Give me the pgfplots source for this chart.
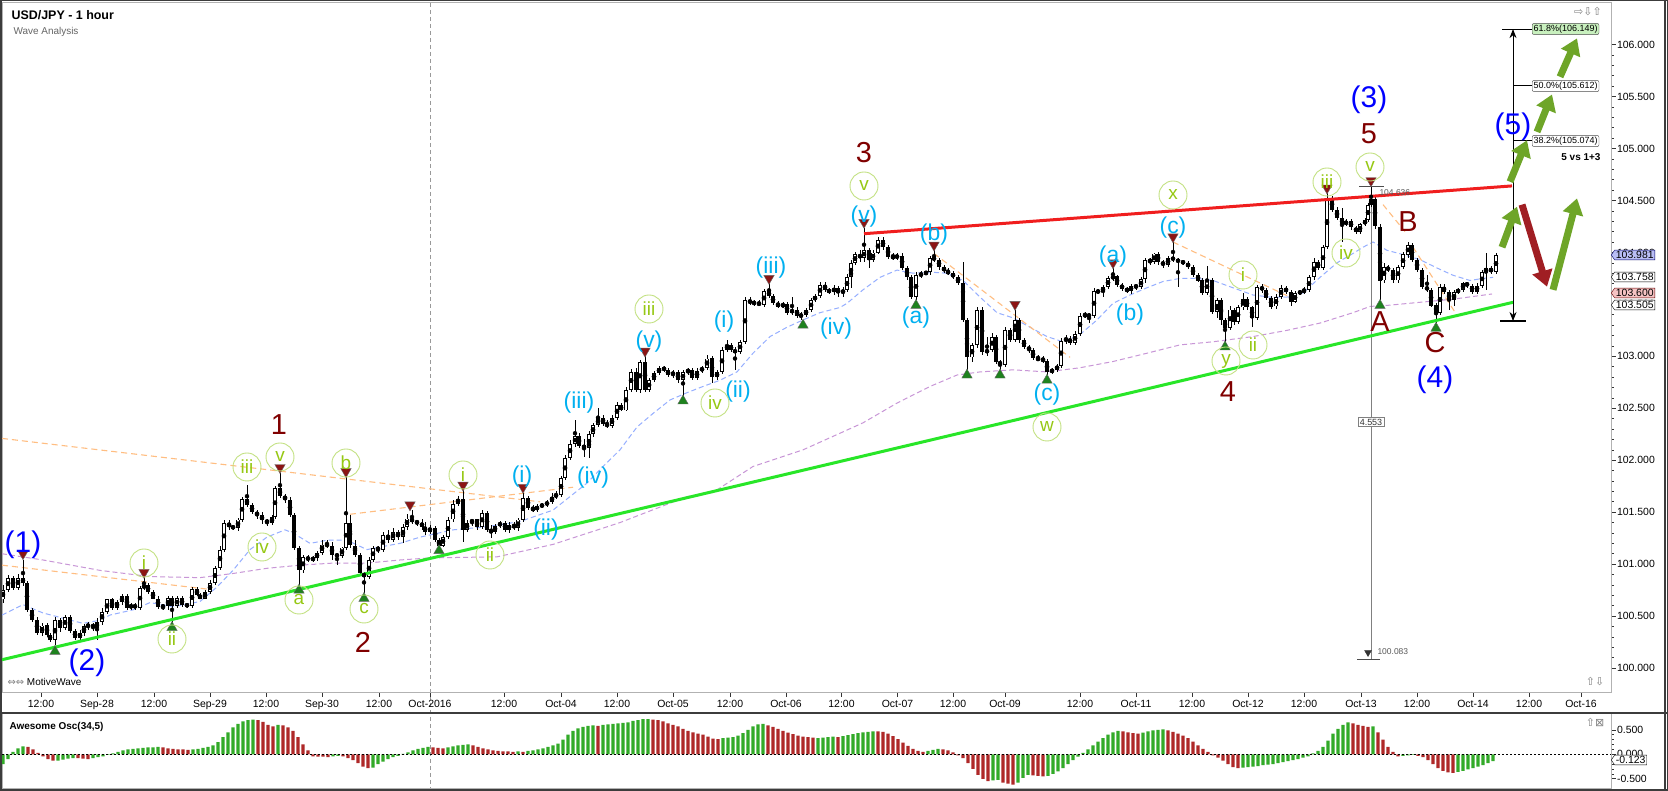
\documentclass[border=0pt]{standalone}
\usepackage{pgfplots}
\pgfplotsset{compat=1.18}
\usepackage{pgfplotstable}
\usepackage{fontspec}
\setmainfont{Liberation Sans}
\newfontfamily\djv{DejaVu Sans}
\usetikzlibrary{arrows.meta,shapes.symbols}
\definecolor{wblue}{RGB}{0,0,255}
\definecolor{wred}{RGB}{128,0,0}
\definecolor{wcyan}{RGB}{0,176,240}
\definecolor{wgreen}{RGB}{150,200,20}
\definecolor{wcirc}{RGB}{195,225,130}
\definecolor{trgreen}{RGB}{40,230,40}
\definecolor{trred}{RGB}{240,30,30}
\definecolor{maBlue}{RGB}{150,175,255}
\definecolor{maPurple}{RGB}{200,150,215}
\definecolor{fibOrange}{RGB}{255,190,130}
\definecolor{arrGreen}{RGB}{110,165,40}
\definecolor{arrRed}{RGB}{160,30,35}
\definecolor{aoGreen}{RGB}{50,170,40}
\definecolor{aoRed}{RGB}{175,40,40}
\definecolor{triGreen}{RGB}{30,130,30}
\definecolor{triRed}{RGB}{140,20,20}
\definecolor{fibGreen}{RGB}{200,240,190}
\definecolor{lblue}{RGB}{185,190,245}
\definecolor{lpink}{RGB}{245,195,195}
\definecolor{frame}{RGB}{60,60,60}
\tikzset{
  wc/.style={circle, draw=wcirc, line width=0.9bp, text=wgreen, minimum size=28bp, inner sep=0pt, font=\fontsize{19}{19}\selectfont},
  wcy/.style={text=wcyan, font=\fontsize{23}{23}\selectfont, inner sep=0pt},
  wb/.style={text=wblue, font=\fontsize{30}{30}\selectfont, inner sep=0pt},
  wr/.style={text=wred, font=\fontsize{29}{29}\selectfont, inner sep=0pt},
}
\pgfplotstableread{
x o h l c
3 100.66 100.80 100.63 100.75
8 100.75 100.90 100.73 100.87
13 100.87 100.89 100.75 100.77
18 100.77 100.91 100.75 100.87
23 100.87 101.04 100.79 100.82
27 100.82 100.84 100.54 100.56
32 100.56 100.58 100.44 100.46
37 100.46 100.49 100.32 100.34
42 100.34 100.43 100.31 100.41
47 100.41 100.43 100.30 100.32
50 100.32 100.34 100.25 100.27
55 100.27 100.49 100.22 100.46
60 100.46 100.48 100.35 100.39
65 100.39 100.51 100.37 100.49
70 100.49 100.51 100.34 100.36
75 100.36 100.38 100.27 100.29
80 100.29 100.37 100.25 100.34
84 100.34 100.42 100.31 100.40
88 100.40 100.44 100.37 100.42
93 100.42 100.43 100.36 100.39
97 100.39 100.48 100.27 100.44
102 100.44 100.58 100.42 100.54
107 100.54 100.67 100.52 100.66
112 100.66 100.67 100.56 100.58
117 100.58 100.66 100.56 100.64
122 100.64 100.71 100.61 100.69
127 100.69 100.71 100.56 100.58
131 100.58 100.63 100.56 100.61
135 100.61 100.63 100.56 100.58
140 100.58 100.79 100.56 100.77
144 100.77 100.88 100.75 100.80
148 100.80 100.82 100.71 100.73
153 100.73 100.75 100.66 100.67
158 100.67 100.69 100.57 100.59
163 100.59 100.61 100.56 100.60
168 100.60 100.69 100.56 100.67
172 100.67 100.69 100.43 100.60
177 100.60 100.69 100.58 100.67
182 100.67 100.69 100.59 100.61
187 100.61 100.63 100.58 100.60
192 100.60 100.78 100.58 100.76
197 100.76 100.78 100.69 100.70
200 100.70 100.72 100.66 100.67
205 100.67 100.75 100.66 100.73
210 100.73 100.85 100.71 100.82
215 100.82 100.98 100.80 100.96
220 100.96 101.18 100.94 101.14
224 101.14 101.43 101.12 101.40
229 101.40 101.42 101.33 101.36
233 101.36 101.38 101.33 101.35
238 101.35 101.44 101.32 101.43
242 101.43 101.65 101.41 101.63
247 101.63 101.76 101.55 101.57
252 101.57 101.59 101.48 101.50
257 101.50 101.52 101.44 101.47
262 101.47 101.50 101.39 101.42
267 101.42 101.44 101.37 101.40
272 101.40 101.47 101.38 101.45
275 101.45 101.75 101.43 101.73
280 101.73 101.88 101.64 101.66
285 101.66 101.68 101.59 101.62
290 101.62 101.65 101.45 101.47
294 101.47 101.49 101.14 101.16
299 101.16 101.18 100.80 100.94
303 100.94 101.09 100.91 101.07
308 101.07 101.09 101.02 101.04
313 101.04 101.08 101.02 101.06
317 101.06 101.13 101.03 101.11
322 101.11 101.23 101.09 101.19
327 101.19 101.23 101.16 101.18
332 101.18 101.21 101.04 101.09
337 101.09 101.11 100.99 101.08
342 101.08 101.17 101.06 101.16
346 101.16 101.84 101.14 101.40
350 101.40 101.47 101.16 101.18
355 101.18 101.23 101.07 101.09
360 101.09 101.11 100.90 100.91
364 100.91 100.93 100.72 100.88
369 100.88 101.07 100.86 101.04
373 101.04 101.18 101.02 101.16
378 101.16 101.17 101.11 101.14
383 101.14 101.31 101.12 101.28
388 101.28 101.33 101.20 101.23
393 101.23 101.35 101.21 101.31
398 101.31 101.33 101.23 101.26
403 101.26 101.39 101.20 101.36
407 101.36 101.48 101.33 101.44
412 101.44 101.52 101.39 101.41
417 101.41 101.43 101.37 101.40
422 101.40 101.43 101.33 101.36
425 101.36 101.41 101.28 101.31
430 101.31 101.38 101.29 101.35
435 101.35 101.37 101.21 101.23
439 101.23 101.25 101.16 101.18
443 101.18 101.28 101.17 101.26
448 101.26 101.45 101.24 101.43
453 101.43 101.62 101.41 101.58
458 101.58 101.66 101.56 101.63
463 101.63 101.71 101.21 101.33
467 101.33 101.43 101.31 101.40
472 101.40 101.44 101.37 101.43
477 101.43 101.44 101.33 101.36
482 101.36 101.52 101.34 101.49
487 101.49 101.51 101.31 101.33
491 101.33 101.38 101.25 101.31
495 101.31 101.39 101.29 101.37
500 101.37 101.42 101.35 101.40
505 101.40 101.42 101.31 101.33
509 101.33 101.41 101.30 101.38
514 101.38 101.41 101.33 101.35
518 101.35 101.44 101.32 101.43
523 101.43 101.69 101.41 101.64
528 101.64 101.66 101.52 101.54
533 101.54 101.57 101.50 101.52
537 101.52 101.58 101.50 101.56
542 101.56 101.59 101.54 101.57
547 101.57 101.62 101.55 101.60
552 101.60 101.68 101.58 101.65
556 101.65 101.70 101.63 101.67
561 101.67 101.85 101.65 101.83
565 101.83 102.05 101.81 102.02
570 102.02 102.19 102.00 102.16
575 102.16 102.39 102.13 102.23
579 102.23 102.26 102.12 102.14
584 102.14 102.20 102.03 102.12
589 102.12 102.28 102.02 102.25
593 102.25 102.36 102.22 102.34
598 102.34 102.50 102.32 102.41
603 102.41 102.44 102.33 102.35
607 102.35 102.39 102.31 102.33
612 102.33 102.44 102.31 102.41
617 102.41 102.56 102.39 102.53
621 102.53 102.55 102.47 102.48
626 102.48 102.70 102.47 102.68
631 102.68 102.88 102.66 102.85
636 102.85 102.89 102.66 102.68
640 102.68 102.97 102.65 102.95
645 102.95 103.00 102.66 102.68
649 102.68 102.79 102.66 102.77
654 102.77 102.86 102.75 102.84
659 102.84 102.91 102.82 102.89
664 102.89 102.91 102.85 102.87
668 102.87 102.89 102.80 102.82
673 102.82 102.87 102.79 102.85
678 102.85 102.87 102.74 102.77
683 102.77 102.87 102.61 102.85
688 102.85 102.89 102.82 102.87
692 102.87 102.89 102.77 102.79
697 102.79 102.89 102.77 102.86
702 102.86 102.91 102.84 102.89
707 102.89 103.01 102.87 102.98
712 102.98 103.00 102.74 102.80
717 102.80 102.87 102.77 102.85
722 102.85 103.09 102.83 103.06
727 103.06 103.16 103.04 103.11
731 103.11 103.13 103.04 103.06
735 103.06 103.09 102.87 103.04
740 103.04 103.16 103.02 103.14
745 103.14 103.57 103.12 103.54
750 103.54 103.57 103.49 103.51
754 103.51 103.54 103.49 103.52
759 103.52 103.54 103.48 103.49
764 103.49 103.65 103.48 103.63
769 103.63 103.71 103.56 103.58
773 103.58 103.60 103.49 103.51
778 103.51 103.53 103.47 103.48
783 103.48 103.52 103.47 103.50
787 103.50 103.52 103.40 103.42
792 103.42 103.57 103.40 103.45
797 103.45 103.47 103.37 103.39
801 103.39 103.43 103.35 103.40
806 103.40 103.47 103.38 103.45
811 103.45 103.56 103.43 103.54
815 103.54 103.60 103.52 103.58
820 103.58 103.72 103.56 103.69
825 103.69 103.72 103.62 103.64
829 103.64 103.66 103.60 103.62
834 103.62 103.69 103.59 103.66
838 103.66 103.68 103.57 103.61
843 103.61 103.67 103.57 103.64
847 103.64 103.79 103.62 103.76
851 103.76 103.93 103.66 103.90
855 103.90 104.00 103.88 103.98
860 103.98 104.02 103.91 103.95
864 103.95 104.24 103.91 104.02
869 104.02 104.04 103.85 103.93
873 103.93 104.02 103.91 104.00
878 104.00 104.15 103.98 104.12
883 104.12 104.15 104.02 104.05
888 104.05 104.07 103.94 103.96
893 103.96 104.00 103.93 103.95
897 103.95 103.99 103.93 103.97
902 103.97 103.99 103.83 103.85
907 103.85 103.87 103.74 103.76
911 103.76 103.78 103.55 103.57
916 103.57 103.81 103.54 103.78
921 103.78 103.82 103.75 103.80
926 103.80 103.82 103.78 103.81
930 103.81 103.97 103.78 103.95
934 103.95 104.02 103.91 103.93
939 103.93 103.95 103.83 103.86
944 103.86 103.88 103.80 103.82
948 103.82 103.85 103.78 103.80
953 103.80 103.82 103.74 103.76
958 103.76 103.78 103.69 103.71
963 103.71 103.91 103.33 103.35
967 103.35 103.37 102.87 102.99
972 102.99 103.13 102.95 103.11
977 103.11 103.47 103.08 103.45
982 103.45 103.48 103.01 103.04
987 103.04 103.19 103.00 103.06
992 103.06 103.22 103.04 103.19
996 103.19 103.21 102.93 102.95
1000 102.95 102.97 102.87 102.92
1005 102.92 103.28 102.90 103.25
1010 103.25 103.27 103.14 103.16
1015 103.16 103.45 103.14 103.35
1019 103.35 103.37 103.13 103.16
1024 103.16 103.18 103.07 103.09
1029 103.09 103.11 103.03 103.06
1033 103.06 103.08 102.97 102.98
1038 102.98 103.01 102.96 102.97
1043 102.97 103.00 102.94 102.96
1047 102.96 102.97 102.82 102.85
1052 102.85 102.89 102.83 102.87
1057 102.87 102.93 102.85 102.91
1061 102.91 103.18 102.89 103.15
1066 103.15 103.21 103.12 103.17
1070 103.17 103.20 103.11 103.13
1075 103.13 103.24 103.11 103.22
1080 103.22 103.42 103.20 103.39
1085 103.39 103.43 103.37 103.40
1089 103.40 103.42 103.32 103.39
1094 103.39 103.66 103.37 103.63
1098 103.63 103.65 103.60 103.62
1103 103.62 103.69 103.57 103.67
1108 103.67 103.77 103.65 103.75
1113 103.75 103.85 103.73 103.77
1117 103.77 103.78 103.67 103.69
1122 103.69 103.71 103.63 103.65
1127 103.65 103.67 103.61 103.63
1131 103.63 103.70 103.60 103.68
1136 103.68 103.70 103.64 103.67
1141 103.67 103.76 103.65 103.74
1145 103.74 103.95 103.71 103.93
1150 103.93 103.95 103.88 103.91
1154 103.91 104.00 103.89 103.99
1158 103.99 104.00 103.88 103.91
1163 103.91 103.93 103.85 103.88
1168 103.88 103.97 103.86 103.95
1173 103.95 104.10 103.91 103.93
1178 103.93 103.95 103.67 103.91
1183 103.91 103.93 103.88 103.90
1188 103.90 103.92 103.84 103.86
1193 103.86 103.88 103.76 103.78
1198 103.78 103.80 103.72 103.73
1202 103.73 103.75 103.59 103.61
1207 103.61 103.87 103.59 103.73
1212 103.73 103.75 103.41 103.43
1217 103.43 103.56 103.37 103.54
1221 103.54 103.56 103.30 103.35
1225 103.35 103.37 103.14 103.27
1230 103.27 103.48 103.25 103.45
1234 103.45 103.47 103.30 103.33
1238 103.33 103.49 103.31 103.47
1243 103.47 103.61 103.45 103.55
1247 103.55 103.57 103.45 103.47
1252 103.47 103.49 103.28 103.37
1257 103.37 103.69 103.35 103.67
1262 103.67 103.70 103.61 103.64
1266 103.64 103.66 103.54 103.56
1271 103.56 103.58 103.46 103.48
1276 103.48 103.60 103.46 103.57
1281 103.57 103.69 103.55 103.66
1286 103.66 103.68 103.60 103.62
1291 103.62 103.64 103.48 103.52
1295 103.52 103.63 103.51 103.61
1300 103.61 103.64 103.59 103.62
1304 103.62 103.67 103.60 103.64
1309 103.64 103.78 103.62 103.76
1314 103.76 103.95 103.74 103.91
1318 103.91 103.93 103.83 103.85
1323 103.85 104.07 103.83 104.05
1327 104.05 104.57 104.03 104.52
1332 104.52 104.54 104.39 104.41
1337 104.41 104.44 104.31 104.33
1342 104.33 104.43 104.10 104.27
1346 104.27 104.32 104.25 104.30
1351 104.30 104.32 104.22 104.24
1356 104.24 104.26 104.18 104.20
1360 104.20 104.28 104.18 104.27
1365 104.27 104.33 104.25 104.31
1368 104.31 104.48 104.29 104.46
1371 104.46 104.63 104.44 104.51
1375 104.51 104.53 104.23 104.25
1380 104.25 104.27 103.54 103.73
1384 103.73 103.90 103.71 103.86
1388 103.86 103.88 103.81 103.83
1393 103.83 103.85 103.71 103.73
1398 103.73 103.88 103.71 103.86
1403 103.86 104.00 103.84 103.98
1408 103.98 104.10 103.95 104.07
1412 104.07 104.09 103.91 103.93
1417 103.93 103.95 103.81 103.83
1422 103.83 103.85 103.65 103.67
1427 103.67 103.78 103.62 103.64
1431 103.64 103.66 103.48 103.49
1436 103.49 103.51 103.32 103.42
1440 103.42 103.70 103.40 103.67
1444 103.67 103.70 103.60 103.62
1449 103.62 103.64 103.45 103.54
1454 103.54 103.64 103.49 103.62
1458 103.62 103.66 103.60 103.64
1463 103.64 103.72 103.62 103.71
1467 103.71 103.72 103.66 103.68
1472 103.68 103.70 103.60 103.62
1477 103.62 103.71 103.60 103.68
1482 103.68 103.83 103.66 103.81
1486 103.81 103.99 103.64 103.85
1491 103.85 103.87 103.79 103.81
1496 103.81 103.99 103.79 103.98
}\candles
\begin{document}
\begin{tikzpicture}
\useasboundingbox (0,0) rectangle (1668bp,791bp);
\fill[white] (0,0) rectangle (1668bp,791bp);
\begin{scope}[x=1bp,y=-1bp,yshift=791bp]
\draw[gray!80, dash pattern=on 4bp off 3bp, line width=0.8bp] (430,3)--(430,788);
\end{scope}
% ---------------- main panel ----------------
\begin{axis}[
  at={(2bp,99bp)}, anchor=south west,
  scale only axis, width=1609bp, height=690bp,
  xmin=2, xmax=1611, ymin=99.7695, ymax=106.41,
  axis line style={draw=gray!60, line width=0.8bp},
  xtick={41,97,154,210,266,322,379,430,504,561,617,673,730,786,841.5,897.5,953,1005,1080,1136,1192,1248,1304,1361,1417,1473,1529,1581},
  xticklabels={12:00,Sep-28,12:00,Sep-29,12:00,Sep-30,12:00,Oct-2016,12:00,Oct-04,12:00,Oct-05,12:00,Oct-06,12:00,Oct-07,12:00,Oct-09,12:00,Oct-11,12:00,Oct-12,12:00,Oct-13,12:00,Oct-14,12:00,Oct-16},
  xtick pos=bottom, ytick pos=right, yticklabel pos=right,
  tick align=outside, major tick length=4.5bp, minor tick length=2.5bp,
  ytick={100,100.5,101,101.5,102,102.5,103,103.5,104,104.5,105,105.5,106},
  yticklabels={100.000,100.500,101.000,101.500,102.000,102.500,103.000,103.500,104.000,104.500,105.000,105.500,106.000},
  minor y tick num=4,
  every tick/.style={black!80, line width=0.6bp},
  tick label style={font=\fontsize{10.5}{12}\selectfont, text=black},
  yticklabel style={anchor=west, xshift=-2bp},
]
% moving averages
\addplot[maPurple, dashed, dash pattern=on 5bp off 3bp, line width=1bp] coordinates {(2,101.10) (43,101.04) (100,100.94) (150,100.88) (200,100.87) (233,100.91) (267,100.96) (300,100.99) (333,101.01) (367,101.01) (400,101.04) (430,101.06) (497,101.07) (553,101.19) (620,101.40) (687,101.65) (713,101.69) (753,101.94) (803,102.10) (840,102.26) (863,102.36) (897,102.55) (930,102.71) (957,102.82) (980,102.85) (1013,102.87) (1047,102.85) (1080,102.89) (1113,102.95) (1147,103.03) (1180,103.11) (1213,103.14) (1253,103.19) (1287,103.25) (1320,103.32) (1353,103.42) (1370,103.48) (1387,103.49) (1420,103.52) (1453,103.55) (1492,103.60)};
\addplot[maBlue, dashed, dash pattern=on 5bp off 3bp, line width=1bp] coordinates {(2,100.51) (23,100.61) (43,100.53) (83,100.43) (100,100.46) (110,100.51) (133,100.56) (150,100.63) (173,100.59) (200,100.64) (217,100.78) (233,100.94) (250,101.14) (267,101.26) (285,101.33) (293,101.30) (310,101.20) (327,101.23) (347,101.23) (367,101.14) (383,101.17) (400,101.20) (420,101.26) (453,101.33) (487,101.36) (520,101.41) (553,101.52) (570,101.65) (587,101.78) (603,101.94) (620,102.10) (637,102.32) (653,102.45) (670,102.58) (687,102.65) (703,102.71) (720,102.77) (737,102.85) (753,103.03) (770,103.19) (787,103.28) (803,103.35) (820,103.42) (840,103.47) (847,103.51) (863,103.64) (880,103.76) (897,103.83) (913,103.80) (930,103.81) (947,103.80) (963,103.73) (980,103.57) (997,103.42) (1013,103.37) (1030,103.28) (1047,103.19) (1063,103.14) (1080,103.21) (1097,103.35) (1113,103.51) (1130,103.59) (1147,103.66) (1163,103.72) (1180,103.75) (1197,103.75) (1213,103.73) (1230,103.67) (1253,103.59) (1270,103.57) (1287,103.57) (1303,103.61) (1320,103.76) (1337,103.90) (1353,103.99) (1363,104.05) (1373,104.10) (1387,104.02) (1403,103.98) (1420,103.93) (1437,103.85) (1453,103.78) (1470,103.73) (1483,103.75) (1493,103.76)};
% orange wave channel lines
\addplot[fibOrange, dash pattern=on 6bp off 4bp, line width=1.1bp] coordinates {(2,102.21) (540,101.60)};
\addplot[fibOrange, dash pattern=on 6bp off 4bp, line width=1.1bp] coordinates {(350,101.48) (573,101.74)};
\addplot[fibOrange, dash pattern=on 6bp off 4bp, line width=1.1bp] coordinates {(2,100.99) (207,100.76)};
\addplot[fibOrange, dash pattern=on 6bp off 4bp, line width=1.1bp] coordinates {(934,103.99) (1070,102.99)};
\addplot[fibOrange, dash pattern=on 6bp off 4bp, line width=1.1bp] coordinates {(1173,104.10) (1290,103.57)};
\addplot[fibOrange, dash pattern=on 6bp off 4bp, line width=1.1bp] coordinates {(1383,104.46) (1405,104.20)};
\addplot[fibOrange, dash pattern=on 6bp off 4bp, line width=1.1bp] coordinates {(1413,104.05) (1458,103.38)};
% gray measurement
\addplot[gray, line width=0.8bp] coordinates {(1371,104.636) (1371,100.083)};
\addplot[gray!60!black, line width=1.2bp] coordinates {(1359,104.636) (1384,104.636)};
\addplot[gray!60!black, line width=1.2bp] coordinates {(1357,100.083) (1380,100.083)};
\addplot[only marks, mark=triangle*, mark size=4, mark options={rotate=180, fill=gray!40!black, draw=gray!40!black}] coordinates {(1368,100.15)};
% candles
\addplot[only marks, mark=none, error bars/.cd, y dir=both, y explicit, error mark=none, error bar style={draw=black, line width=0.9bp}]
  table[x=x, y expr={(\thisrow{h}+\thisrow{l})/2}, y error expr={(\thisrow{h}-\thisrow{l})/2}] {\candles};
\addplot[only marks, mark=none, error bars/.cd, y dir=both, y explicit, error mark=none, error bar style={draw=black, line width=3.3bp}]
  table[x=x, y expr={(\thisrow{o}+\thisrow{c})/2}, y error expr={max(abs(\thisrow{c}-\thisrow{o})/2,0.006)}] {\candles};
\addplot[only marks, mark=none, error bars/.cd, y dir=both, y explicit, error mark=none, error bar style={draw=white, line width=1.5bp}]
  table[x=x, y expr={(\thisrow{o}+\thisrow{c})/2}, y error expr={(\thisrow{c}>\thisrow{o}) ? max((\thisrow{c}-\thisrow{o})/2-0.009,0) : 0}] {\candles};
% trend lines
\addplot[trgreen, line width=3bp] coordinates {(2,100.08) (1513,103.52)};
\addplot[trred, line width=3bp] coordinates {(864,104.18) (1512,104.64)};
% black fib measurement
\addplot[black, line width=0.9bp, {Stealth[length=9bp,width=7bp]}-{Stealth[length=9bp,width=7bp]}] coordinates {(1513,106.149) (1513,103.34)};
\addplot[black, line width=1.2bp] coordinates {(1502,106.149) (1532,106.149)};
\addplot[black, line width=0.8bp] coordinates {(1513,105.612) (1532,105.612)};
\addplot[black, line width=0.8bp] coordinates {(1513,105.074) (1532,105.074)};
\addplot[black, line width=1.2bp] coordinates {(1500,103.34) (1526,103.34)};
% swing markers
\addplot[only marks, mark=triangle*, mark size=6, mark options={fill=triGreen, draw=black!60, line width=0.4bp}] coordinates {(55,100.16) (172,100.39) (299,100.75) (364,100.67) (439,101.13) (683,102.57) (803,103.30) (916,103.49) (967,102.82) (1000,102.82) (1047,102.77) (1225,103.09) (1380,103.49) (1436,103.27)};
\addplot[only marks, mark=triangle*, mark size=6, mark options={rotate=180, fill=triRed, draw=black!60, line width=0.4bp}] coordinates {(23,101.10) (144,100.92) (280,101.93) (346,101.89) (410,101.57) (463,101.76) (523,101.74) (645,103.05) (769,103.75) (864,104.29) (934,104.07) (1015,103.50) (1113,103.90) (1173,104.15) (1327,104.62) (1371,104.69)};
% projection arrows
\addplot[arrGreen, line width=7bp, -{Triangle[length=16bp,width=20bp]}] coordinates {(1502,104.05) (1517,104.44)};
\addplot[arrGreen, line width=7bp, -{Triangle[length=16bp,width=20bp]}] coordinates {(1510,104.68) (1527,105.08)};
\addplot[arrGreen, line width=7bp, -{Triangle[length=16bp,width=20bp]}] coordinates {(1537,105.16) (1552,105.52)};
\addplot[arrGreen, line width=7bp, -{Triangle[length=16bp,width=20bp]}] coordinates {(1560,105.69) (1577,106.06)};
\addplot[arrGreen, line width=7bp, -{Triangle[length=16bp,width=20bp]}] coordinates {(1553,103.64) (1577,104.52)};
\addplot[arrRed, line width=7bp, -{Triangle[length=16bp,width=20bp]}] coordinates {(1522,104.46) (1547,103.67)};
\end{axis}
% ---------------- oscillator panel ----------------
\begin{axis}[
  at={(2bp,3bp)}, anchor=south west,
  scale only axis, width=1609bp, height=75bp,
  xmin=2, xmax=1611, ymin=-0.688, ymax=0.843,
  axis line style={draw=gray!60, line width=0.8bp},
  xtick=\empty,
  ytick={-0.5,0,0.5}, yticklabels={-0.500,0.000,0.500},
  ytick pos=right, yticklabel pos=right,
  tick align=outside, major tick length=4.5bp, minor tick length=2.5bp,
  minor y tick num=4,
  every tick/.style={black!80, line width=0.6bp},
  tick label style={font=\fontsize{10.5}{12}\selectfont, text=black},
  yticklabel style={anchor=west, xshift=-2bp},
]
\addplot[ybar, bar width=3.4bp, bar shift=0pt, fill=aoGreen, draw=none] coordinates {(3,-0.20) (8,-0.10) (13,0.05) (18,0.12) (23,0.16) (58,-0.13) (63,-0.11) (68,-0.09) (73,-0.08) (93,-0.08) (98,-0.06) (103,-0.04) (108,-0.01) (113,0.02) (118,0.05) (123,0.08) (128,0.10) (133,0.11) (138,0.12) (143,0.13) (148,0.14) (153,0.14) (158,0.15) (193,0.10) (198,0.11) (203,0.13) (208,0.15) (213,0.18) (218,0.25) (223,0.35) (228,0.45) (233,0.55) (238,0.62) (243,0.67) (248,0.70) (253,0.71) (278,0.60) (333,-0.04) (338,-0.03) (373,-0.27) (378,-0.20) (383,-0.15) (388,-0.10) (393,-0.06) (398,-0.03) (403,0.01) (408,0.04) (413,0.08) (418,0.11) (423,0.13) (428,0.15) (448,0.14) (453,0.16) (458,0.18) (463,0.19) (468,0.20) (518,0.06) (528,0.07) (533,0.08) (538,0.10) (543,0.12) (548,0.15) (553,0.18) (558,0.22) (563,0.30) (568,0.40) (573,0.48) (578,0.53) (583,0.56) (588,0.58) (593,0.59) (603,0.60) (608,0.61) (613,0.62) (618,0.63) (623,0.64) (628,0.65) (633,0.68) (638,0.70) (643,0.72) (648,0.72) (723,0.33) (728,0.34) (733,0.35) (738,0.38) (743,0.43) (748,0.50) (753,0.57) (758,0.61) (763,0.62) (818,0.33) (823,0.34) (828,0.35) (833,0.36) (843,0.37) (848,0.39) (853,0.41) (858,0.43) (863,0.45) (868,0.46) (873,0.47) (928,0.07) (933,0.09) (938,0.11) (993,-0.53) (998,-0.52) (1018,-0.58) (1023,-0.48) (1028,-0.42) (1048,-0.44) (1053,-0.40) (1058,-0.35) (1063,-0.28) (1068,-0.20) (1073,-0.12) (1078,-0.05) (1083,0.03) (1088,0.10) (1093,0.18) (1098,0.26) (1103,0.33) (1108,0.40) (1113,0.45) (1118,0.48) (1143,0.44) (1148,0.47) (1153,0.49) (1158,0.50) (1163,0.51) (1243,-0.27) (1248,-0.26) (1253,-0.25) (1258,-0.24) (1263,-0.22) (1268,-0.21) (1273,-0.20) (1278,-0.18) (1283,-0.16) (1288,-0.14) (1293,-0.12) (1298,-0.10) (1303,-0.07) (1308,-0.04) (1313,0.02) (1318,0.07) (1323,0.15) (1328,0.28) (1333,0.42) (1338,0.52) (1343,0.60) (1348,0.65) (1373,0.57) (1403,-0.03) (1408,-0.02) (1413,-0.01) (1458,-0.36) (1463,-0.34) (1468,-0.31) (1473,-0.28) (1478,-0.25) (1483,-0.22) (1488,-0.18) (1493,-0.14)};
\addplot[ybar, bar width=3.4bp, bar shift=0pt, fill=aoRed, draw=none] coordinates {(28,0.15) (33,0.10) (38,0.03) (43,-0.04) (48,-0.10) (53,-0.13) (78,-0.08) (83,-0.09) (88,-0.10) (163,0.14) (168,0.12) (173,0.11) (178,0.10) (183,0.10) (188,0.09) (258,0.70) (263,0.66) (268,0.60) (273,0.57) (283,0.59) (288,0.55) (293,0.48) (298,0.35) (303,0.20) (308,0.08) (313,-0.04) (318,-0.05) (323,-0.05) (328,-0.06) (343,-0.04) (348,-0.08) (353,-0.12) (358,-0.18) (363,-0.25) (368,-0.28) (433,0.14) (438,0.13) (443,0.12) (473,0.18) (478,0.15) (483,0.12) (488,0.10) (493,0.08) (498,0.07) (503,0.06) (508,0.06) (513,0.05) (523,0.05) (598,0.58) (653,0.71) (658,0.70) (663,0.67) (668,0.63) (673,0.60) (678,0.57) (683,0.52) (688,0.48) (693,0.45) (698,0.42) (703,0.40) (708,0.36) (713,0.32) (718,0.31) (768,0.59) (773,0.56) (778,0.52) (783,0.48) (788,0.44) (793,0.41) (798,0.38) (803,0.36) (808,0.35) (813,0.34) (838,0.35) (878,0.47) (883,0.46) (888,0.42) (893,0.37) (898,0.31) (903,0.24) (908,0.17) (913,0.11) (918,0.07) (923,0.05) (943,0.10) (948,0.08) (953,0.04) (958,-0.02) (963,-0.08) (968,-0.18) (973,-0.30) (978,-0.42) (983,-0.50) (988,-0.55) (1003,-0.58) (1008,-0.60) (1013,-0.62) (1033,-0.43) (1038,-0.44) (1043,-0.45) (1123,0.47) (1128,0.45) (1133,0.43) (1138,0.42) (1168,0.49) (1173,0.46) (1178,0.42) (1183,0.38) (1188,0.33) (1193,0.26) (1198,0.18) (1203,0.11) (1208,0.05) (1213,-0.02) (1218,-0.07) (1223,-0.13) (1228,-0.20) (1233,-0.26) (1238,-0.28) (1353,0.63) (1358,0.60) (1363,0.58) (1368,0.56) (1378,0.45) (1383,0.30) (1388,0.15) (1393,0.05) (1398,-0.04) (1418,-0.03) (1423,-0.06) (1428,-0.12) (1433,-0.20) (1438,-0.28) (1443,-0.34) (1448,-0.37) (1453,-0.38)};
\addplot[black, dash pattern=on 2bp off 2bp, line width=0.7bp] coordinates {(2,0) (1611,0)};
\end{axis}
% ---------------- annotations (pixel coordinates, origin top-left) ----------------
\begin{scope}[x=1bp,y=-1bp,yshift=791bp]
% frames
\draw[frame, line width=2bp] (0,713)--(1668,713);
\draw[frame, line width=3bp] (0,0) rectangle (1668,791);
\draw[frame, line width=2bp] (1665,0)--(1665,791);
% title
\node[anchor=west, font=\bfseries\fontsize{12.5}{14}\selectfont] at (8,15) {USD/JPY - 1 hour};
\node[anchor=west, font=\fontsize{10}{12}\selectfont, text=gray!80!black] at (10,32) {Wave Analysis};
\node[anchor=west, font=\fontsize{10}{12}\selectfont] at (4,682) {{\djv\color{gray}⇔⇔} MotiveWave};
\node[anchor=west, font=\bfseries\fontsize{10}{12}\selectfont] at (6,727) {Awesome Osc(34,5)};
\node[font=\djv\fontsize{11}{12}\selectfont, text=gray] at (1588,12) {⇨⇩⇧};
\node[font=\djv\fontsize{11}{12}\selectfont, text=gray] at (1595,682) {⇧⇩};
\node[font=\djv\fontsize{11}{12}\selectfont, text=gray] at (1595,722) {⇧⊠};
% blue labels
\node[wb] at (23,545) {(1)};
\node[wb] at (87,663) {(2)};
\node[wb] at (1369,100) {(3)};
\node[wb] at (1435,380) {(4)};
\node[wb] at (1513,127) {(5)};
% dark red labels
\node[wr] at (279,425) {1};
\node[wr] at (363,642) {2};
\node[wr] at (864,153) {3};
\node[wr] at (1228,392) {4};
\node[wr] at (1369,134) {5};
\node[wr] at (1380,322) {A};
\node[wr] at (1408,222) {B};
\node[wr] at (1435,343) {C};
% cyan labels
\node[wcy] at (522,477) {(i)};
\node[wcy] at (546,530) {(ii)};
\node[wcy] at (579,403) {(iii)};
\node[wcy] at (593,478) {(iv)};
\node[wcy] at (649,342) {(v)};
\node[wcy] at (724,322) {(i)};
\node[wcy] at (738,392) {(ii)};
\node[wcy] at (771,268) {(iii)};
\node[wcy] at (836,329) {(iv)};
\node[wcy] at (864,217) {(v)};
\node[wcy] at (916,318) {(a)};
\node[wcy] at (934,235) {(b)};
\node[wcy] at (1047,395) {(c)};
\node[wcy] at (1113,257) {(a)};
\node[wcy] at (1130,315) {(b)};
\node[wcy] at (1173,228) {(c)};
% circled green labels
\node[wc] at (144,563) {i};
\node[wc] at (172,639) {ii};
\node[wc] at (247,467) {iii};
\node[wc] at (262,547) {iv};
\node[wc] at (280,457) {v};
\node[wc] at (299,600) {a};
\node[wc] at (346,463) {b};
\node[wc] at (364,609) {c};
\node[wc] at (463,475) {i};
\node[wc] at (490,555) {ii};
\node[wc] at (649,309) {iii};
\node[wc] at (715,403) {iv};
\node[wc] at (864,186) {v};
\node[wc] at (1047,427) {w};
\node[wc] at (1173,195) {x};
\node[wc] at (1226,361) {y};
\node[wc] at (1243,275) {i};
\node[wc] at (1253,345) {ii};
\node[wc] at (1327,182) {iii};
\node[wc] at (1346,253) {iv};
\node[wc] at (1370,167) {v};
% measurement texts
\node[anchor=west, font=\fontsize{8.5}{10}\selectfont, text=gray!70!black] at (1376,193) {104.636};
\node[draw=gray, fill=white, inner sep=1.5bp, font=\fontsize{9}{10}\selectfont, text=gray!40!black] at (1371,422) {4.553};
\node[anchor=west, font=\fontsize{8.5}{10}\selectfont, text=gray!70!black] at (1374,652) {100.083};
% fib boxes
\node[anchor=west, draw=gray!60!black, rounded corners=2bp, fill=fibGreen, inner sep=1.5bp, font=\fontsize{9}{10}\selectfont] at (1532,29) {61.8\%(106.149)};
\node[anchor=west, draw=gray!60!black, rounded corners=2bp, fill=white, inner sep=1.5bp, font=\fontsize{9}{10}\selectfont] at (1532,86) {50.0\%(105.612)};
\node[anchor=west, draw=gray!60!black, rounded corners=2bp, fill=white, inner sep=1.5bp, font=\fontsize{9}{10}\selectfont] at (1532,141) {38.2\%(105.074)};
\node[anchor=east, font=\bfseries\fontsize{10}{12}\selectfont] at (1604,157) {5 vs 1+3};
% price tags
\node[signal, signal to=west, signal pointer angle=110, draw=blue!40!black, fill=lblue, inner sep=1.2bp, font=\fontsize{10.5}{11}\selectfont, anchor=west] at (1611,255) {103.981};
\node[signal, signal to=west, signal pointer angle=110, draw=black, fill=white, inner sep=1.2bp, font=\fontsize{10.5}{11}\selectfont, anchor=west] at (1611,277) {103.758};
\node[signal, signal to=west, signal pointer angle=110, draw=red!40!black, fill=lpink, inner sep=1.2bp, font=\fontsize{10.5}{11}\selectfont, anchor=west] at (1611,293) {103.600};
\node[signal, signal to=west, signal pointer angle=110, draw=black, fill=white, inner sep=1.2bp, font=\fontsize{10.5}{11}\selectfont, anchor=west] at (1611,305) {103.505};
\node[signal, signal to=west, signal pointer angle=110, draw=black, fill=white, inner sep=1.2bp, font=\fontsize{10.5}{11}\selectfont, anchor=west] at (1611,760) {-0.123};
\end{scope}
\end{tikzpicture}
\end{document}
